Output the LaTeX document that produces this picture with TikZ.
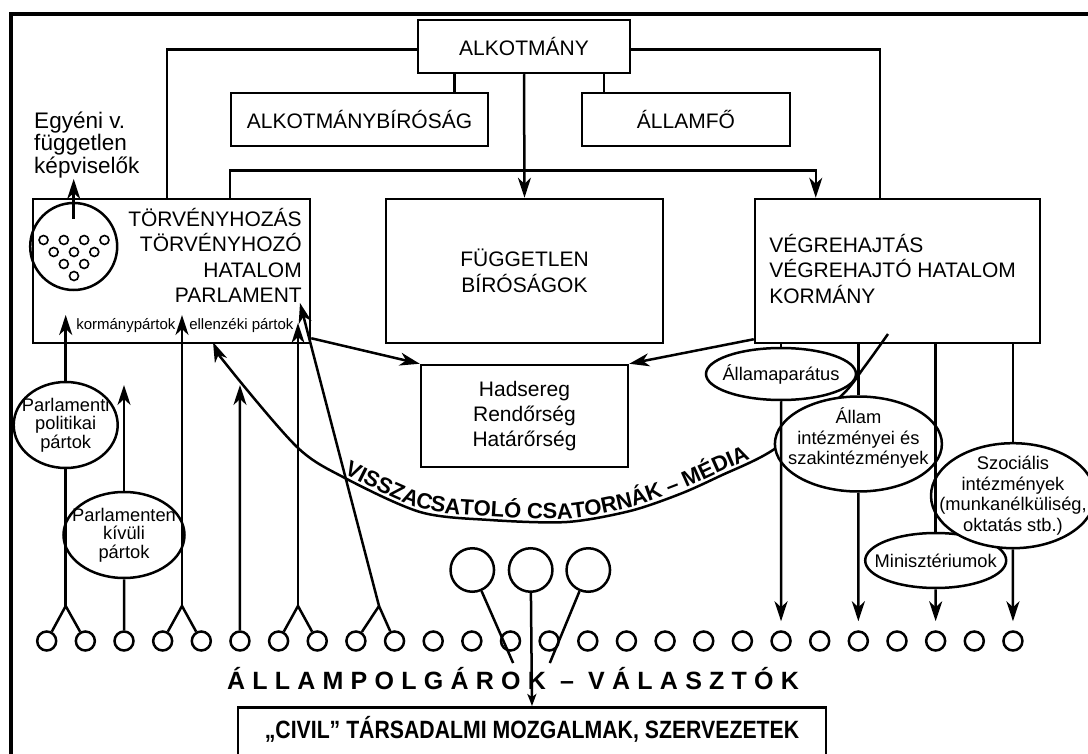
\documentclass[tikz,border=0pt]{standalone}
\usepackage{fontspec}
\setmainfont{Liberation Sans}
\usetikzlibrary{arrows.meta,shapes.geometric,calc,decorations.text}

\begin{document}
\begin{tikzpicture}[x=1pt, y=-1pt, line width=2.5pt,
    >={Stealth[length=20pt,width=13pt,inset=6pt]},
    box/.style={draw, rectangle, inner sep=0pt, align=center, font=\fontsize{21}{25.4}\selectfont},
    ell/.style={draw, ellipse, fill=white, inner sep=0pt},
    etxt/.style={inner sep=0pt, align=center, font=\fontsize{18.3}{20.5}\selectfont},
    citizen/.style={draw, circle, minimum size=19pt, inner sep=0pt},
    seat/.style={draw, circle, minimum size=9pt, inner sep=0pt, line width=1.6pt},
    group/.style={draw, circle, minimum size=43.5pt, inner sep=0pt}]
\useasboundingbox (0,0) rectangle (1088,754);
\draw[line width=3.5pt] (11,770) -- (11,14) -- (1100,14);

% state organs
\node[box, minimum width=212pt, minimum height=53pt] (alk) at (524,46.5) {ALKOTMÁNY};
\node[box, minimum width=257pt, minimum height=53pt] (abir) at (359.5,119.5) {ALKOTMÁNYBÍRÓSÁG};
\node[box, minimum width=208pt, minimum height=53pt] (fo) at (686,119.5) {ÁLLAMFŐ};
\node[box, minimum width=277pt, minimum height=144pt] (torv) at (171.5,271) {};
\node[box, minimum width=277pt, minimum height=144pt] (fugg) at (524.5,271) {FÜGGETLEN\\BÍRÓSÁGOK};
\node[box, minimum width=285pt, minimum height=144pt] (vegr) at (897.5,271) {};
\node[box, minimum width=207pt, minimum height=102pt] (had) at (524.5,416) {Hadsereg\\Rendőrség\\Határőrség};

\node[anchor=north east, inner sep=0pt, align=right, font=\fontsize{21}{25.4}\selectfont] (torvtxt) at (303,207)
    {TÖRVÉNYHOZÁS\\TÖRVÉNYHOZÓ\\HATALOM\\PARLAMENT};
\node[anchor=north west, inner sep=0pt, align=left, font=\fontsize{21}{25.4}\selectfont] (vegrtxt) at (768,233)
    {VÉGREHAJTÁS\\VÉGREHAJTÓ HATALOM\\KORMÁNY};

% parliament seats
\node[draw, circle, minimum size=87pt, inner sep=0pt] (parl) at (73.7,246.5) {};
\foreach \r/\n in {0/4,1/3,2/2,3/1}
  \foreach \k in {1,...,\n}
    \node[seat] (s\r\k) at ({74+20.3*(\k-(\n+1)/2)},{240+12*\r}) {};
\node[anchor=north west, inner sep=0pt, align=left, font=\fontsize{22.5}{18.5}\selectfont] (egyeni) at (33,111)
    {Egyéni v.\\független\\képviselők};
\draw[->] ([yshift=-17pt]parl.north) -- (egyeni.south -| parl.north);
\node[anchor=base west, inner sep=0pt, font=\fontsize{15}{16}\selectfont] (korm) at (75,330) {kormánypártok};
\node[anchor=base west, inner sep=0pt, font=\fontsize{15}{16}\selectfont] (ellen) at (188,330) {ellenzéki pártok};

% links from the constitution
\draw ($(alk.west)+(0,3)$) -| ($(torv.north west)+(135,0)$);
\draw ($(alk.east)+(0,3)$) -| ($(vegr.north west)+(126,0)$);
\draw ($(abir.north east)+(-35,0)$) -- ++(0,-20);
\draw ($(fo.north west)+(23,0)$) -- ++(0,-20);
\draw[->] (alk.south) -- (fugg.north);
\draw[->] ($(torv.north west)+(198,0)$) -- ++(0,-27) -| ($(vegr.north west)+(62,0)$);
\draw[->] ($(torv.south east)+(0,-6)$) -- (had.north west);
\draw[->] ($(vegr.south west)+(0,-5)$) -- (had.north east);

% citizens
\foreach \i in {0,...,25}
  \node[citizen] (c\i) at ({46.7+38.65*\i},641) {};

% feedback channel
\draw[<-] plot[smooth] coordinates {(213,342) (230,369) (297,447) (343,477) (420,512) (490,520) (567,522)
    (630,511) (680,494) (720,476) (773,450) (840,397) (865,366) (888,334)};
\path[decorate, decoration={text along path, text align=center, raise=3.5pt,
    text={|\fontsize{22}{22}\selectfont\bfseries|VISSZACSATOLÓ CSATORNÁK – MÉDIA}}]
    plot[smooth] coordinates {(213,342) (230,369) (297,447) (343,477) (420,512) (490,520) (567,522)
    (630,511) (680,494) (720,476) (773,450) (840,397) (865,366) (888,334)};

% parties and institutions
\node[ell, minimum width=104pt, minimum height=86pt] (ppol) at (65.7,425) {};
\node[etxt, font=\fontsize{18.3}{18.5}\selectfont] (ppoltxt) at (ppol) {Parlamenti\\politikai\\pártok};
\node[ell, minimum width=121pt, minimum height=86pt] (pkiv) at (124,535) {};
\node[etxt, font=\fontsize{18.3}{18.5}\selectfont] (pkivtxt) at (pkiv) {Parlamenten\\kívüli\\pártok};
\node[ell, minimum width=150pt, minimum height=52pt] (app) at (781,374) {};
\node[etxt] (apptxt) at (app) {Államaparátus};
\node[ell, minimum width=167pt, minimum height=95pt] (allam) at (858.4,444) {};
\node[etxt] (allamtxt) at ([yshift=6pt]allam.center) {Állam\\intézményei és\\szakintézmények};
\node[ell, minimum width=141pt, minimum height=55pt] (mini) at (935.7,560.5) {};
\node[etxt] (minitxt) at (mini) {Minisztériumok};
\node[ell, minimum width=164pt, minimum height=105pt] (szoc) at (1013,495.7) {};
\node[etxt] (szoctxt) at (szoc) {Szociális\\intézmények\\(munkanélküliség,\\oktatás stb.)};

% citizens to parliament
\coordinate (b1) at (65.7,606);
\coordinate (b2) at (182,606);
\coordinate (b3) at (298,606);
\coordinate (b4) at (379,606);
\coordinate (t1) at (65.7,315);
\coordinate (t2) at (124,385);
\coordinate (t3) at (182,315);
\coordinate (t4) at (240,385);
\coordinate (t5) at (298,323);
\coordinate (t6) at (300,303);
\draw (c0) -- (b1) -- (c1);
\draw (b1) -- (ppol);
\draw[->] (ppol) -- (t1);
\draw (c2) -- (pkiv);
\draw[->] (pkiv) -- (t2);
\draw (c3) -- (b2) -- (c4);
\draw[->] (b2) -- (t3);
\draw[->] (c5) -- (t4);
\draw (c6) -- (b3) -- (c7);
\draw[->] (b3) -- (t5);
\draw (c8) -- (b4) -- (c9);
\draw[->] (b4) -- (t6);

% government to citizens
\draw (vegr.south -| app) -- (app);
\draw[->, shorten >=9pt] (app) -- (c19);
\draw (vegr.south -| allam) -- (allam);
\draw[->, shorten >=9pt] (allam) -- (c21);
\draw (vegr.south -| mini) -- (mini);
\draw[->, shorten >=9pt] (mini) -- (c23);
\draw (vegr.south -| szoc) -- (szoc);
\draw[->, shorten >=9pt] (szoc) -- (c25);

% civil society
\node[group] (g1) at (472.3,570) {};
\node[group] (g2) at (530.7,570) {};
\node[group] (g3) at (588.3,570) {};
\node[draw, anchor=north, minimum width=588pt, text height=18pt, text depth=32pt, inner ysep=13pt,
    font=\fontsize{25}{25}\selectfont\bfseries] (civil) at (532,706)
    {\scalebox{0.85}[1]{„CIVIL” TÁRSADALMI MOZGALMAK, SZERVEZETEK}};
\draw (g1) -- ($(g1)!0.684!(civil.north)$);
\draw[-{Stealth[length=12pt,width=9pt,inset=3pt]}] (g2) -- (civil.north);
\draw (g3) -- ($(g3)!0.684!(civil.north)$);
\node[anchor=base, inner sep=0pt, font=\fontsize{25}{25}\selectfont\bfseries\addfontfeature{LetterSpace=29}] (polg)
    at (513,689) {ÁLLAMPOLGÁROK – VÁLASZTÓK};
\end{tikzpicture}
\end{document}
